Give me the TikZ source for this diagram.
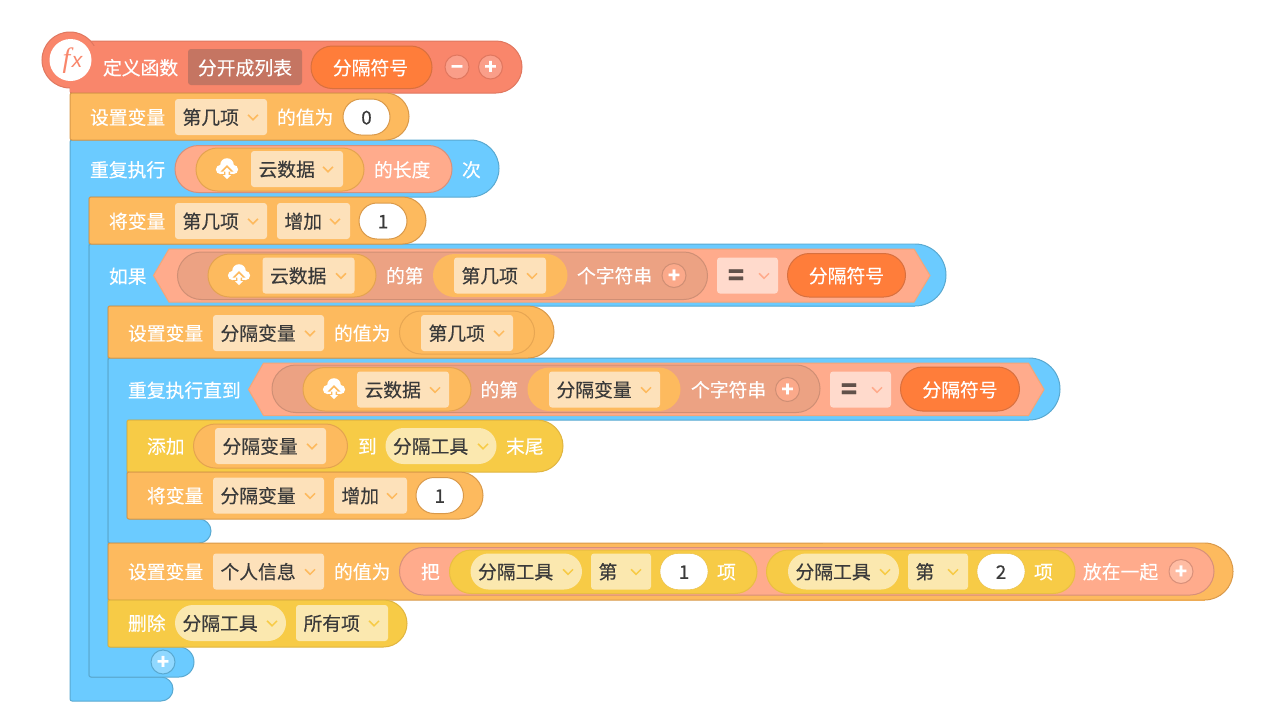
\documentclass[tikz,border=0pt]{standalone}
\usepackage{fontspec}
\setmainfont[FakeBold=0.3]{Noto Sans CJK SC}
\newfontfamily\fxf{Liberation Serif}
\newfontfamily\fxs{Liberation Sans}
\definecolor{cOr}{HTML}{FDBA5E}\definecolor{cOrB}{HTML}{D9994A}
\definecolor{cBl}{HTML}{6BCBFF}\definecolor{cBlB}{HTML}{5AA9D0}
\definecolor{cRd}{HTML}{F9866B}\definecolor{cRdB}{HTML}{E0775F}
\definecolor{cYe}{HTML}{F7CB46}\definecolor{cYeB}{HTML}{E0B540}
\definecolor{cOp}{HTML}{FFAB8C}\definecolor{cOpB}{HTML}{D8907A}
\definecolor{cIn}{HTML}{ECA283}\definecolor{cInB}{HTML}{CF8F75}
\definecolor{cPa}{HTML}{FF7D3A}\definecolor{cPaB}{HTML}{D8703F}
\definecolor{cDO}{HTML}{FDE1BA}\definecolor{cDY}{HTML}{FBE8AF}\definecolor{cDE}{HTML}{FFDACC}
\definecolor{cTx}{HTML}{3A3A3A}
\newcounter{nc}
\tikzset{
 x=1pt,y=-1pt,
 txt/.style={inner sep=0pt,outer sep=0pt,font=\fontsize{18.8}{22}\selectfont},
 wht/.style={txt,text=white},
 drk/.style={txt,text=cTx},
 bOr/.style={fill=cOr,draw=cOrB,line width=1pt},
 bBl/.style={fill=cBl,draw=cBlB,line width=1pt},
 bRd/.style={fill=cRd,draw=cRdB,line width=1pt},
 bYe/.style={fill=cYe,draw=cYeB,line width=1pt},
 pOp/.style={fill=cOp,draw=cOpB,line width=1pt},
 pIn/.style={fill=cIn,draw=cInB,line width=1pt},
 pPa/.style={fill=cPa,draw=cPaB,line width=1pt},
 pVa/.style={fill=cOr,draw=cOrB!70!cOr,line width=1pt},
 pVb/.style={fill=cYe,draw=cYeB!60!cYe,line width=1pt},
 pIp/.style={fill=white,draw=cOrB,line width=1pt},
 pEm/.style={fill=cOr,draw=cOrB!60!cOr,line width=1pt},
 hexa/.style={fill=cOp,draw=cOp!70!cOrB,line width=1pt},
 seamB/.style={draw=cBlB!45!cBl,line width=1pt},
 seamO/.style={draw=cOrB!45!cOr,line width=1pt},
}
% stack block with round right end
\newcommand{\blk}[5]{\pgfmathsetmacro{\rr}{(#4-#2)/2}%
 \path[#5] [rounded corners=2pt] (#1,{(#2+#4)/2}) -- (#1,#2) [rounded corners=\rr pt] -- (#3,#2) -- (#3,#4) [rounded corners=2pt] -- (#1,#4) -- cycle;}
% C block: x1,y1,x2,yh,xi,yb,xa,ye,style
\newcommand{\cblk}[9]{\pgfmathsetmacro{\rr}{(#4-#2)/2}\pgfmathsetmacro{\rs}{(#8-#6)/2}%
 \path[#9] [rounded corners=2pt] (#1,{(#2+#8)/2}) -- (#1,#2) [rounded corners=\rr pt] -- (#3,#2) -- (#3,#4) [rounded corners=2pt] -- (#5,#4) -- (#5,#6) [rounded corners=\rs pt] -- (#7,#6) -- (#7,#8) [rounded corners=2pt] -- (#1,#8) -- cycle;}
\newcommand{\pill}[5]{\pgfmathsetmacro{\rr}{((#4)-(#3))/2}%
 \path[#5,rounded corners=\rr pt] ({#1},{#3}) rectangle ({#2},{#4});}
\newcommand{\W}[3]{\stepcounter{nc}\node[wht,anchor=base west] (n\arabic{nc}) at ({#1},{#2+7.4}) {#3};}
\newcommand{\WC}[3]{\stepcounter{nc}\node[wht,anchor=base] (n\arabic{nc}) at ({#1},{#2+7.4}) {#3};}
\newcommand{\DC}[3]{\stepcounter{nc}\node[drk,anchor=base] (n\arabic{nc}) at ({#1},{#2+7.4}) {#3};}
\newcommand{\chev}[3]{\draw[#3,line width=1.5pt] ({#1-5},{#2-2.2}) -- ({#1},{#2+2.8}) -- ({#1+5},{#2-2.2});}
% square dropdown x1 x2 cy text chevx
\newcommand{\dd}[5]{\path[fill=cDO,rounded corners=3pt] (#1,{#3-18}) rectangle (#2,{#3+18});
 \stepcounter{nc}\node[drk,anchor=base west] (n\arabic{nc}) at ({#1+7.5},{#3+7.4}) {#4};\chev{#5}{#3}{cOr}}
\newcommand{\ddy}[5]{\path[fill=cDY,rounded corners=3pt] (#1,{#3-18}) rectangle (#2,{#3+18});
 \stepcounter{nc}\node[drk,anchor=base west] (n\arabic{nc}) at ({#1+7.5},{#3+7.4}) {#4};\chev{#5}{#3}{cYe}}
\newcommand{\ddr}[5]{\path[fill=cDY,rounded corners=18pt] (#1,{#3-18}) rectangle (#2,{#3+18});
 \stepcounter{nc}\node[drk,anchor=base west] (n\arabic{nc}) at ({#1+7.5},{#3+7.4}) {#4};\chev{#5}{#3}{cYe}}
\newcommand{\eqdd}[4]{\path[fill=cDE,rounded corners=3pt] (#1,{#3-18}) rectangle (#2,{#3+18});
 \stepcounter{nc}\node[txt,text=cTx!80!cOp,font=\fontsize{27}{27}\selectfont\bfseries,anchor=base] (n\arabic{nc}) at ({#1+19},{#3+9.5}) {=};\chev{#4}{#3}{cOp}}
\newcommand{\inp}[4]{\pill{#1}{#2}{#3-18}{#3+18}{pIp}\DC{(#1+#2)/2}{#3}{#4}}
\newcommand{\btn}[5]{\path[fill=#3,draw=#4,line width=1pt] (#1,#2) circle[radius=12pt];
 \stepcounter{nc}\node[txt,text=white,font=\fontsize{20}{22}\selectfont\bfseries,anchor=base] (n\arabic{nc}) at (#1,{#2+7}) {#5};}
\newcommand{\cloud}[3]{\fill[white] (#1,{#2-3}) circle[radius=6.8pt] ({#1-6.5},{#2+1.5}) circle[radius=4.6pt] ({#1+6.5},{#2+1.5}) circle[radius=4.6pt];
 \fill[white] ({#1-6.5},{#2+1}) rectangle ({#1+6.5},{#2+6});
 \fill[#3] (#1,{#2-3}) -- ({#1+6.5},{#2+3.5}) -- ({#1+3},{#2+3.5}) -- ({#1+3},{#2+8}) -- ({#1-3},{#2+8}) -- ({#1-3},{#2+3.5}) -- ({#1-6.5},{#2+3.5}) -- cycle;
 \fill[white] (#1,{#2-0.5}) -- ({#1+4},{#2+3.5}) -- ({#1+1.7},{#2+3.5}) -- ({#1+1.7},{#2+7}) -- ({#1+4},{#2+7}) -- (#1,{#2+11}) -- ({#1-4},{#2+7}) -- ({#1-1.7},{#2+7}) -- ({#1-1.7},{#2+3.5}) -- ({#1-4},{#2+3.5}) -- cycle;}
\begin{document}
\begin{tikzpicture}
\useasboundingbox (0,0) rectangle (1280,726);
\fill[white] (0,0) rectangle (1280,726);
% outer loops
\cblk{70}{140}{499}{197}{89}{677}{173}{701}{bBl}
\cblk{89}{244}{946}{306}{108}{647}{194}{677}{bBl}
\cblk{108}{358}{1060}{420}{127}{519}{211}{543}{bBl}
% define block
\blk{70}{41}{522}{93}{bRd}
\path[fill=cRd,draw=cRdB,line width=1pt] (70,60) circle[radius=28pt];
\path[fill=cRd] (70,46) rectangle (100,92);
\path[fill=white] (70.5,60) circle[radius=21pt];
\node[txt,text=cRd,font=\fxf\itshape\fontsize{28}{28}\selectfont,anchor=base] (fxf) at (66.5,67) {f};
\node[txt,text=cRd,font=\fxs\itshape\fontsize{21}{21}\selectfont,anchor=base] (fxx) at (77,67.5) {x};
\W{103}{67.5}{定义函数}
\path[fill=cRdB!85!black!90,rounded corners=3pt] (188,49) rectangle (302,85);
\WC{245}{67.5}{分开成列表}
\pill{311}{432}{46}{88.5}{pPa}\WC{370.5}{67.5}{分隔符号}
\btn{457}{67}{cRd!80!white}{cRdB}{−}
\btn{490.5}{67}{cRd!80!white}{cRdB}{+}
% row 2
\blk{70}{93}{409}{140}{bOr}
\W{90}{117}{设置变量}\dd{175}{267}{117}{第几项}{253}
\W{277}{117}{的值为}\inp{343}{390}{117}{0}
% row 3
\W{90}{169.5}{重复执行}
\pill{175}{452}{145.5}{192.5}{pOp}
\pill{196}{364}{148}{191}{pVa}
\cloud{227}{168}{cOr}
\dd{251}{343}{169}{云数据}{328}
\W{374}{169.5}{的长度}\W{462}{169.5}{次}
% row 4
\blk{89}{197}{426}{244}{bOr}
\W{109}{221}{将变量}\dd{175}{267}{221}{第几项}{253}
\dd{277}{350}{221}{增加}{335}\inp{359}{407}{221}{1}
% if header
\draw[seamB] (790,244) -- (915,244) (790,306) -- (915,306);
\W{109}{276}{如果}
\path[hexa] (153.5,275.5) -- (169,249) -- (914,249) -- (930,275.5) -- (914,302) -- (169,302) -- cycle;
\pill{177.5}{707.5}{252}{299.5}{pIn}
\pill{208}{376}{254}{297}{pVa}
\cloud{239}{274}{cOr}
\dd{262.5}{354.5}{275.5}{云数据}{341}
\W{386}{275.5}{的第}
\pill{433}{567.5}{254}{297}{fill=cOr}
\dd{454}{546}{275.5}{第几项}{532}
\W{577}{275.5}{个字符串}
\btn{674}{275.5}{cOp!80!cIn}{cInB}{+}
\eqdd{717}{778}{275.5}{764}
\pill{787.5}{905.5}{253.5}{297}{pPa}\WC{846.5}{275.5}{分隔符号}
% set var
\blk{108}{306}{554}{358}{bOr}
\W{128}{333}{设置变量}\dd{213}{324}{333}{分隔变量}{310}
\W{334}{333}{的值为}
\pill{399.5}{534.5}{311}{354}{pEm}
\dd{421}{513}{333}{第几项}{499}
% until header
\draw[seamB] (790,358) -- (1029,358) (790,420) -- (1029,420);
\W{128}{390}{重复执行直到}
\path[hexa] (248.5,389.5) -- (263.5,363) -- (1028.5,363) -- (1044,389.5) -- (1028.5,415.5) -- (263.5,415.5) -- cycle;
\pill{272}{820}{365}{412.5}{pIn}
\pill{303}{471}{367.5}{411}{pVa}
\cloud{334}{388}{cOr}
\dd{357}{449}{389.5}{云数据}{435}
\W{480.5}{389.5}{的第}
\pill{527.5}{680.5}{367.5}{411}{fill=cOr}
\dd{549}{660}{389.5}{分隔变量}{646}
\W{691}{389.5}{个字符串}
\btn{787.5}{389.5}{cOp!80!cIn}{cInB}{+}
\eqdd{830}{891}{389.5}{877}
\pill{900.5}{1019.5}{367}{411}{pPa}\WC{960}{389.5}{分隔符号}
% add
\blk{127}{420}{563}{472}{bYe}
\W{147}{446}{添加}
\pill{193.5}{347.5}{424}{468}{pVa}
\dd{215}{326}{446}{分隔变量}{312}
\W{358}{446}{到}
\ddr{385.5}{496.5}{446}{分隔工具}{483}
\W{506}{446}{末尾}
% incr
\blk{127}{472}{483}{519}{bOr}
\W{147}{495.5}{将变量}\dd{213}{324}{495.5}{分隔变量}{310}
\dd{334}{407}{495.5}{增加}{392}\inp{416}{463.5}{495.5}{1}
% set person
\blk{108}{543}{1233}{600}{bOr}
\draw[seamO] (823,543) -- (1205,543) (790,600) -- (1205,600);
\W{128}{571.5}{设置变量}\dd{213}{324}{571.5}{个人信息}{310}
\W{334}{571.5}{的值为}
\pill{399.5}{1214}{547.5}{595}{pOp}
\W{421}{571.5}{把}
\pill{449.5}{757}{550}{593.5}{pVb}
\ddr{470.5}{582}{571.5}{分隔工具}{568}
\ddy{591}{651}{571.5}{第}{636}
\path[fill=white,draw=cYeB!70!cYe,rounded corners=18pt] (660,553.5) rectangle (708,589.5);\DC{684}{571.5}{1}
\W{717}{571.5}{项}
\pill{766.5}{1075}{550}{593.5}{pVb}
\ddr{788}{899}{571.5}{分隔工具}{885}
\ddy{908}{968}{571.5}{第}{953}
\path[fill=white,draw=cYeB!70!cYe,rounded corners=18pt] (977,553.5) rectangle (1025,589.5);\DC{1001}{571.5}{2}
\W{1034}{571.5}{项}
\W{1083}{571.5}{放在一起}
\btn{1181}{571.5}{cOp!80!white}{cOpB}{+}
% delete
\blk{108}{600}{407}{647}{bYe}
\W{128}{623}{删除}
\ddr{175}{286}{623}{分隔工具}{272}
\ddy{296}{388}{623}{所有项}{374}
\btn{163}{662}{cBl!75!white}{cBlB}{+}
\end{tikzpicture}
\end{document}
